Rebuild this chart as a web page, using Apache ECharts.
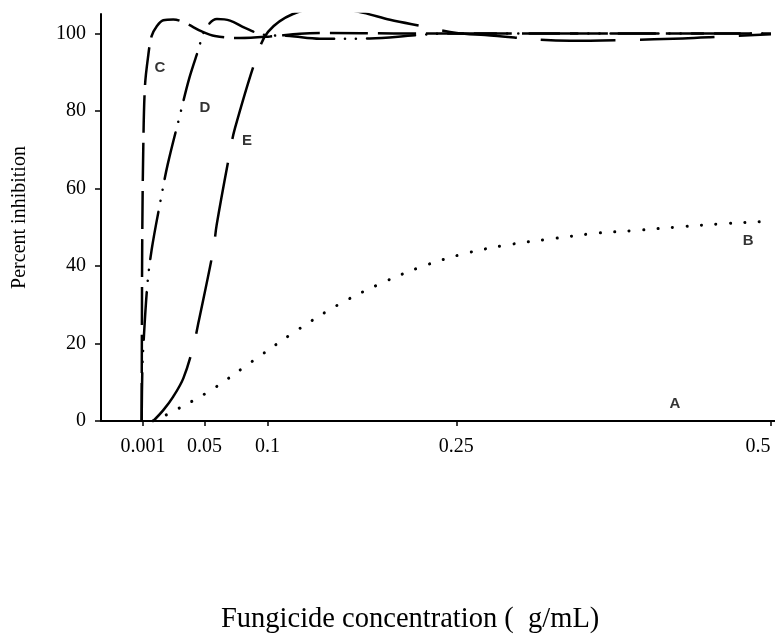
<!DOCTYPE html>
<html>
<head>
<meta charset="utf-8">
<script src="https://cdn.jsdelivr.net/npm/echarts@6/dist/echarts.min.js"></script>
<style>html,body{margin:0;padding:0;background:#fff;}#c{width:775px;height:635px;}</style>
</head>
<body>
<div id="c"></div>
<script>
// Tick labels
const xTicks = [0.001, 0.05, 0.1, 0.25, 0.5];
const yTicks = [0, 20, 40, 60, 80, 100];

// Series A: flat at zero
const seriesA = [[0, 0], [0.1, 0], [0.25, 0], [0.5, 0]];
// Series B: dotted, slow rise
const seriesB = [[0.009, 0], [0.0203, 1.7], [0.0543, 7.8], [0.0879, 15.4], [0.122, 23.1], [0.1562, 30.0], [0.1901, 35.5], [0.2241, 40.0], [0.2579, 43.3], [0.2921, 45.5], [0.3258, 47.0], [0.3599, 48.4], [0.3938, 49.2], [0.4277, 50.1], [0.4617, 50.9], [0.4958, 51.5], [0.5, 51.6]];
// Series C: long dash, very steep
const seriesC = [[0, 0], [0.0002, 25], [0.0005, 48.5], [0.0013, 70.7], [0.0026, 86.2], [0.005, 93.7], [0.0079, 99.3], [0.0119, 101.8], [0.0172, 103.4], [0.0251, 103.6], [0.0344, 102.7], [0.0477, 100.5], [0.0582, 99.3], [0.0781, 98.8], [0.1019, 99.2], [0.1257, 99.9], [0.1496, 100.1], [0.2, 100], [0.3, 100], [0.4, 100], [0.5, 100]];
// Series D: dash-dot-dot
const seriesD = [[0, 0], [0.0005, 12.7], [0.0013, 19.0], [0.0044, 34.6], [0.0079, 44.1], [0.0151, 57.0], [0.0207, 66.2], [0.0304, 78.9], [0.0378, 88.4], [0.045, 95.7], [0.0503, 100.9], [0.0598, 103.7], [0.0702, 103.3], [0.0821, 101.4], [0.0964, 99.7], [0.1178, 99.3], [0.1417, 98.6], [0.1814, 98.7], [0.2172, 99.5], [0.245, 100], [0.3, 100], [0.4, 100], [0.5, 100]];
// Series E: long dash, later rise with overshoot
const seriesE = [[0.0092, 0], [0.0172, 2.8], [0.0251, 6.3], [0.0331, 11.0], [0.041, 19.2], [0.045, 25.2], [0.0569, 44.1], [0.0596, 50.6], [0.0702, 69.5], [0.0741, 75.5], [0.0914, 94.0], [0.1004, 100.4], [0.1202, 105.0], [0.148, 106.8], [0.1761, 105.3], [0.1973, 103.5], [0.2238, 101.8], [0.2503, 100.1], [0.2728, 99.6], [0.3403, 98.1], [0.384, 98.3], [0.4301, 98.7], [0.4516, 99.0], [0.5, 99.8]];
// Curve labels (data coordinates)
const curveLabels = [[0.0145, 91.1, 'C'], [0.0503, 80.8, 'D'], [0.0837, 72.2, 'E'], [0.4818, 46.4, 'B'], [0.4237, 4.4, 'A']];

const chart = echarts.init(document.getElementById('c'), null, {renderer: 'canvas'});
const serif = '"Liberation Serif", "Times New Roman", serif';
function lineSeries(name, data, type, cap, width) {
  return {
    name: name, type: 'line', data: data, smooth: 0.35, symbol: 'none',
    lineStyle: {color: '#000', width: width || 2.5, type: type, cap: cap || 'butt'},
    z: 3
  };
}
chart.setOption({
  animation: false,
  backgroundColor: '#fff',
  title: {
    text: 'Fungicide concentration (  g/mL)',
    left: 216, top: 600,
    textStyle: {fontFamily: serif, fontWeight: 'normal', fontSize: 28.5, color: '#000'}
  },
  grid: {left: 101, top: 14, width: 674, height: 407, containLabel: false, outerBoundsMode: 'none'},
  xAxis: {
    type: 'value', min: -0.0323, max: 0.5032,
    axisLine: {show: true, onZero: false, lineStyle: {color: '#000', width: 2}},
    axisTick: {show: true, customValues: xTicks, length: 5, lineStyle: {color: '#000', width: 1.5}},
    axisLabel: {
      customValues: xTicks, margin: 16, fontFamily: serif, fontSize: 20, color: '#000',
      formatter: function (v) {
        if (v === 0.5) return '{r|' + v + '}';
        return String(v);
      },
      rich: {
        r: {fontFamily: serif, fontSize: 20, color: '#000', padding: [0, 26, 0, 0]}
      }
    },
    splitLine: {show: false}
  },
  yAxis: {
    type: 'value', min: 0, max: 105,
    name: 'Percent inhibition', nameLocation: 'middle', nameGap: 71,
    nameTextStyle: {fontFamily: serif, fontSize: 20, color: '#000'},
    axisLine: {show: true, onZero: false, lineStyle: {color: '#000', width: 2}},
    axisTick: {show: true, customValues: yTicks, length: 6, lineStyle: {color: '#000', width: 1.5}},
    axisLabel: {customValues: yTicks, margin: 15, fontFamily: serif, fontSize: 20, color: '#000'},
    splitLine: {show: false}
  },
  series: [
    lineSeries('A', seriesA, 'solid', 'butt', 2),
    lineSeries('B', seriesB, [0.1, 14.4], 'round', 3),
    lineSeries('C', seriesC, [38, 10], 'butt', 2.5),
    lineSeries('D', seriesD, [48, 11, 0.1, 11, 0.1, 11], 'round', 2.5),
    lineSeries('E', seriesE, [75, 24], 'butt', 2.5),
    {
      name: 'labels', type: 'scatter', data: curveLabels, symbolSize: 0, z: 5,
      label: {show: true, position: 'inside', formatter: function (p) { return p.data[2]; },
        fontFamily: '"Liberation Sans", Arial, sans-serif', fontWeight: 'bold', fontSize: 15, color: '#000'}
    }
  ]
});
</script>
</body>
</html>
